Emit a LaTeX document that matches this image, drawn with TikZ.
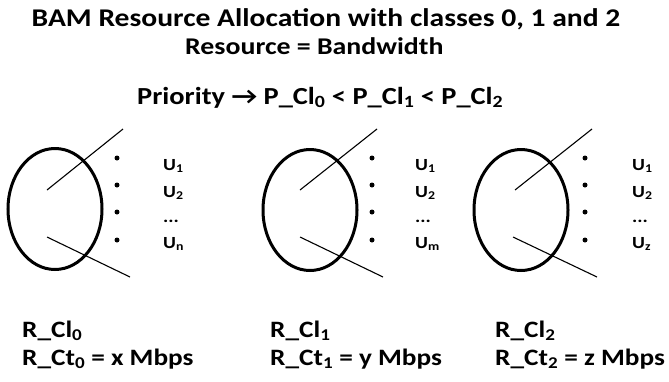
\documentclass[tikz,border=0pt]{standalone}
\usepackage{fontspec}
\setmainfont{Carlito}
\newfontfamily\wideface[FakeStretch=1.16]{Carlito}
\usetikzlibrary{shapes.geometric, positioning}

\begin{document}
\begin{tikzpicture}[
        x=1pt, y=-1pt,
        heading/.style={font=\wideface\fontsize{24}{28}\selectfont\bfseries, inner sep=0pt, anchor=base west},
        prioline/.style={font=\wideface\fontsize{24.5}{28}\selectfont\bfseries, inner sep=0pt, anchor=base west},
        cell/.style={ellipse, draw, line width=3pt, minimum width=94pt,
                     minimum height=121pt, inner sep=0pt},
        ray/.style={line width=1.1pt},
        user/.style={circle, fill, inner sep=0pt, minimum size=5pt},
        ulabel/.style={font=\wideface\fontsize{17}{20}\selectfont\bfseries, inner sep=0pt, anchor=base west},
        rate/.style={font=\wideface\fontsize{23.5}{28}\selectfont\bfseries, inner sep=0pt, anchor=base west}
    ]
        \useasboundingbox (0,0) rectangle (669,381);

        % Title lines
        \node[heading, anchor=base, font=\wideface\fontsize{25.5}{29}\selectfont\bfseries] (title) at (326,26)
            {BAM Resource Allocation with classes 0, 1 and 2};
        \node[heading] (res) at (185,54) {Resource = Bandwidth};
        \node[prioline] (prio) at (137,104)
            {Priority → P\_Cl\textsubscript{0} < P\_Cl\textsubscript{1} < P\_Cl\textsubscript{2}};

        % Class 0
        \node[cell] (cl0) at (55,209) {};
        \coordinate (a0) at (47,190); \coordinate (b0) at (123,129);
        \coordinate (c0) at (47,237); \coordinate (d0) at (130,277);
        \draw[ray] (a0) -- (b0);
        \draw[ray] (c0) -- (d0);
        \node[user] (p01) at (117,158) {};
        \node[user] (p02) at (117,185) {};
        \node[user] (p03) at (117,212) {};
        \node[user] (p04) at (117,240) {};
        \node[ulabel] (u01) at (163,170) {U\textsubscript{1}};
        \node[ulabel] (u02) at (163,197) {U\textsubscript{2}};
        \node[ulabel] (u03) at (163,222) {...};
        \node[ulabel] (u04) at (163,248) {U\textsubscript{n}};
        \node[rate] (r0) at (22,337) {R\_Cl\textsubscript{0}};
        \node[rate] (t0) at (22,365) {R\_Ct\textsubscript{0} = x Mbps};

        % Class 1
        \node[cell] (cl1) at (310,210) {};
        \coordinate (a1) at (300,190); \coordinate (b1) at (377,129);
        \coordinate (c1) at (300,237); \coordinate (d1) at (383,277);
        \draw[ray] (a1) -- (b1);
        \draw[ray] (c1) -- (d1);
        \node[user] (p11) at (372,158) {};
        \node[user] (p12) at (372,185) {};
        \node[user] (p13) at (372,212) {};
        \node[user] (p14) at (372,240) {};
        \node[ulabel] (u11) at (415,170) {U\textsubscript{1}};
        \node[ulabel] (u12) at (415,197) {U\textsubscript{2}};
        \node[ulabel] (u13) at (415,222) {...};
        \node[ulabel] (u14) at (415,248) {U\textsubscript{m}};
        \node[rate] (r1) at (270,337) {R\_Cl\textsubscript{1}};
        \node[rate] (t1) at (270,365) {R\_Ct\textsubscript{1} = y Mbps};

        % Class 2
        \node[cell] (cl2) at (521,210) {};
        \coordinate (a2) at (515,190); \coordinate (b2) at (592,129);
        \coordinate (c2) at (513,237); \coordinate (d2) at (597,277);
        \draw[ray] (a2) -- (b2);
        \draw[ray] (c2) -- (d2);
        \node[user] (p21) at (585,158) {};
        \node[user] (p22) at (585,185) {};
        \node[user] (p23) at (585,212) {};
        \node[user] (p24) at (585,240) {};
        \node[ulabel] (u21) at (632,170) {U\textsubscript{1}};
        \node[ulabel] (u22) at (632,197) {U\textsubscript{2}};
        \node[ulabel] (u23) at (632,222) {...};
        \node[ulabel] (u24) at (632,248) {U\textsubscript{z}};
        \node[rate] (r2) at (495,337) {R\_Cl\textsubscript{2}};
        \node[rate] (t2) at (495,365) {R\_Ct\textsubscript{2} = z Mbps};
    \end{tikzpicture}
\end{document}
